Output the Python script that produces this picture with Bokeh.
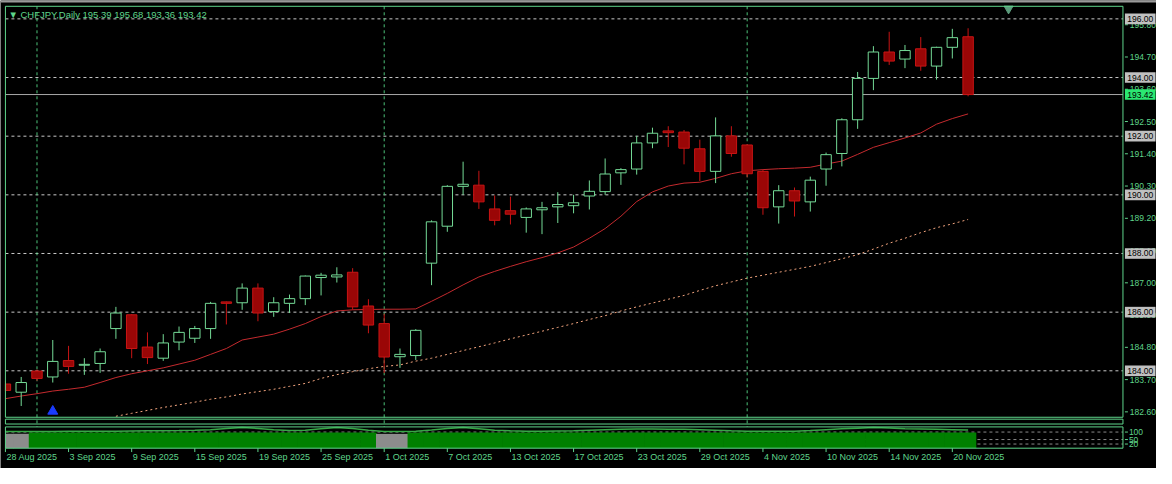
import numpy as np
import pandas as pd
from bokeh.plotting import figure
from bokeh.models import ColumnDataSource, Range1d
from bokeh.embed import file_html
from bokeh.resources import INLINE
from bokeh.core.properties import value

# ---------------- data ----------------
symbol = "CHFJPY"
timeframe = "Daily"
dates = pd.bdate_range("2025-08-28", "2025-11-21")

opens = [183.55, 183.27, 183.99, 183.79, 184.35, 184.19, 184.25, 185.44, 185.91, 184.81,
         184.43, 184.98, 185.11, 185.44, 186.35, 186.32, 186.82, 186.02, 186.30, 186.46,
         187.18, 187.20, 187.36, 186.21, 185.61, 184.48, 184.52, 187.67, 188.93, 190.29,
         190.33, 189.52, 189.46, 189.23, 189.49, 189.59, 189.63, 189.96, 190.11, 190.75,
         190.88, 191.77, 192.18, 192.14, 191.57, 190.80, 192.01, 191.70, 190.80, 189.59,
         190.14, 189.76, 190.88, 191.41, 192.56, 193.97, 194.87, 194.63, 194.98, 194.39,
         195.03, 195.39]
highs = [183.66, 183.79, 184.04, 185.05, 184.85, 184.43, 184.76, 186.18, 185.93, 185.31,
         185.25, 185.51, 185.53, 186.35, 186.36, 186.98, 186.98, 186.51, 186.60, 187.25,
         187.34, 187.53, 187.50, 186.44, 185.95, 184.76, 185.42, 189.13, 190.33, 191.13,
         190.82, 189.98, 189.94, 189.57, 189.76, 190.09, 190.00, 190.49, 191.24, 190.91,
         192.01, 192.29, 192.34, 192.21, 191.88, 192.64, 192.34, 191.72, 190.86, 190.33,
         190.25, 190.62, 191.44, 192.61, 194.19, 195.07, 195.56, 195.11, 195.38, 195.05,
         195.66, 195.68]
lows = [183.30, 182.80, 183.66, 183.60, 183.90, 183.86, 183.93, 185.09, 184.43, 184.23,
        184.34, 184.70, 184.95, 185.09, 185.58, 186.08, 185.69, 185.84, 185.97, 186.24,
        186.57, 187.01, 186.08, 185.28, 183.92, 184.10, 184.37, 186.92, 188.74, 190.00,
        189.52, 188.96, 188.99, 188.71, 188.66, 189.04, 189.37, 189.50, 190.00, 190.34,
        190.69, 191.59, 191.63, 191.04, 190.47, 190.40, 191.30, 190.60, 189.32, 189.02,
        189.26, 189.43, 190.31, 190.97, 192.25, 193.57, 194.43, 194.32, 194.23, 193.93,
        194.65, 193.36]
closes = [183.33, 183.60, 183.74, 184.32, 184.15, 184.22, 184.65, 185.97, 184.76, 184.45,
          184.95, 185.31, 185.44, 186.30, 186.30, 186.82, 185.97, 186.32, 186.46, 187.23,
          187.26, 187.27, 186.18, 185.56, 184.47, 184.56, 185.38, 189.08, 190.29, 190.36,
          189.76, 189.13, 189.34, 189.52, 189.56, 189.67, 189.73, 190.12, 190.71, 190.86,
          191.77, 192.10, 192.12, 191.59, 190.80, 192.01, 191.41, 190.72, 189.56, 190.14,
          189.79, 190.50, 191.37, 192.56, 193.97, 194.87, 194.56, 194.92, 194.39, 195.03,
          195.36, 193.42]

ma_fast = [183.05, 183.14, 183.22, 183.31, 183.37, 183.44, 183.60, 183.77, 183.90, 184.00,
           184.10, 184.23, 184.36, 184.56, 184.76, 185.05, 185.15, 185.25, 185.42, 185.61,
           185.85, 186.04, 186.08, 186.09, 186.10, 186.10, 186.11, 186.37, 186.64, 186.93,
           187.20, 187.39, 187.56, 187.72, 187.86, 188.02, 188.22, 188.52, 188.85, 189.27,
           189.77, 190.10, 190.30, 190.40, 190.43, 190.56, 190.72, 190.82, 190.86, 190.89,
           190.91, 190.94, 191.05, 191.15, 191.38, 191.62, 191.78, 191.94, 192.11, 192.41,
           192.60, 192.76]
ma_slow = [None, None, None, None, None, None, None, 182.45, 182.55, 182.65,
           182.75, 182.84, 182.93, 183.03, 183.11, 183.21, 183.29, 183.37, 183.47, 183.57,
           183.74, 183.87, 183.97, 184.07, 184.15, 184.20, 184.33, 184.43, 184.56, 184.69,
           184.82, 184.95, 185.09, 185.22, 185.35, 185.48, 185.61, 185.75, 185.88, 186.04,
           186.18, 186.31, 186.44, 186.57, 186.74, 186.90, 187.03, 187.16, 187.26, 187.36,
           187.46, 187.56, 187.69, 187.82, 187.96, 188.15, 188.35, 188.52, 188.71, 188.88,
           189.01, 189.16]

signal_idx = [3]
signal_price = [182.62]

level_prices = [196.00, 194.00, 192.00, 190.00, 188.00, 186.00, 184.00]
price_ticks = [195.80, 194.70, 193.60, 192.50, 191.40, 190.30, 189.20, 188.10,
               187.00, 185.90, 184.80, 183.70, 182.60]

osc_hist = [88, 88, 97, 97, 97, 97, 97, 97, 97, 97, 97, 97, 97, 97, 97, 97, 97, 97, 97, 97,
            97, 97, 97, 97, 88, 88, 97, 97, 97, 97, 97, 97, 97, 97, 97, 97, 97, 97, 97, 97,
            97, 97, 97, 97, 97, 97, 97, 97, 97, 97, 97, 97, 97, 97, 97, 97, 97, 97, 97, 97,
            97, 97]
osc_gray_idx = [0, 1, 24, 25]
osc_line = [104, 104, 104, 104, 105, 105, 106, 106, 107, 108, 109, 110, 112,
            116, 124, 130, 124, 116, 110, 112, 122, 130, 124, 112, 104, 104, 106,
            114, 124, 130, 122, 112, 108, 106, 106, 107, 108,
            112, 116, 119, 120, 120, 119, 118, 116,
            112, 108, 106, 105, 105, 106,
            110, 116, 122, 126, 130, 127, 122, 120, 118, 116, 114]
osc_levels = [100, 50, 20]
osc_ticks = [100, 50, 20]

date_tick_idx = list(range(0, 62, 4))
date_tick_labels = [f"{dates[i].day} {dates[i].strftime('%b %Y')}" for i in date_tick_idx]

# ---------------- layout helpers (terminal pixel grid -> data units) ----------------
PX_BAR = 16.0          # pixels per bar
X_FIRST = 5.0          # pixel x of first bar
PX_UNIT = 30.33        # pixels per yen
Y_196 = 19.0           # pixel y of 196.00
OSC_PX = 6.452         # oscillator units per pixel
Y_OSC20 = 458.7        # pixel y of oscillator level 20


def bx(px):
    return (px - X_FIRST) / PX_BAR


def py(pxl):
    return 196.0 - (pxl - Y_196) / PX_UNIT


def oy(pxl):
    return 20.0 - (pxl - Y_OSC20) * OSC_PX


W, H = 1156, 468
GREEN = "#5fd58b"
SEP = "#4cc279"
BG = "#000000"
BULL = "#74da96"
BEAR_FILL = "#9a0606"
BEAR_LINE = "#c81414"
FONT = value("Liberation Sans")

n = len(opens)
idx = np.arange(n)
o = np.array(opens); c = np.array(closes)
bull = c >= o
month_starts = [i for i in range(1, n) if dates[i].month != dates[i - 1].month]

L, R = bx(5), bx(1138)
MT, MB = py(6), py(431)
ST, SB = py(433), py(438)
OT, OB = oy(441), oy(463)

p = figure(width=W, height=H, output_backend="svg", toolbar_location=None,
           x_range=Range1d(bx(0), bx(1172)), y_range=Range1d(py(484), py(0)),
           x_axis_location=None, y_axis_location=None, min_border=0,
           min_border_left=0, min_border_right=0, min_border_top=0, min_border_bottom=0,
           background_fill_color=BG, border_fill_color=BG, outline_line_color=None)
p.extra_y_ranges = {"osc": Range1d(oy(484), oy(0))}
p.grid.visible = False

# window top edge
p.quad(left=bx(0), right=bx(1172), top=py(0), bottom=py(2), fill_color="#9a9a9a",
       line_color=None)

# horizontal levels, bid line, period separators
p.segment(x0=[L] * len(level_prices), y0=level_prices, x1=[R] * len(level_prices),
          y1=level_prices, line_color="#c8c8c8", line_dash="3 3", line_width=1)
p.segment(x0=[L], y0=[closes[-1]], x1=[R], y1=[closes[-1]], line_color="#a8a8a8",
          line_width=1)
p.segment(x0=month_starts, y0=[MT] * len(month_starts), x1=month_starts,
          y1=[py(441)] * len(month_starts), line_color=SEP, line_dash="3 3", line_width=1)

# moving averages
p.line(idx, ma_fast, color="#c42a2e", line_width=1)
p.line(idx, np.array([np.nan if v is None else v for v in ma_slow]),
       color="#f2a47e", line_dash="2 3", line_width=1)

# candles
HW = 0.33
src = ColumnDataSource(dict(
    x=idx, h=highs, l=lows,
    top=np.maximum(o, c), bot=np.minimum(o, c),
    left=np.maximum(idx - HW, L), right=idx + HW,
    wick=[BULL if b else BEAR_LINE for b in bull],
    fill=[BG if b else BEAR_FILL for b in bull],
    line=[BULL if b else BEAR_LINE for b in bull],
))
p.segment(x0="x", y0="l", x1="x", y1="h", color="wick", line_width=1, source=src)
p.quad(left="left", right="right", top="top", bottom="bot", fill_color="fill",
       line_color="line", line_width=1, source=src)

p.scatter(signal_idx, signal_price, marker="triangle", size=10, color="#1a3cff")
p.scatter([bx(1022)], [py(8.5)], marker="inverted_triangle", size=9, color="#5c9c7c")

# pane borders
p.quad(left=[L, L], right=[R, R], top=[MT, ST], bottom=[MB, SB], fill_color=None,
       line_color=GREEN, line_width=1)

# price scale
p.segment(x0=[bx(1140)] * len(price_ticks), y0=price_ticks,
          x1=[bx(1143)] * len(price_ticks), y1=price_ticks, line_color=GREEN)
p.text(x=[bx(1145)] * len(price_ticks), y=price_ticks,
       text=[f"{t:.2f}" for t in price_ticks], text_baseline="middle", text_align="left",
       text_font=FONT, text_font_size="8.5px", text_color=GREEN)
p.rect(x=[bx(1155.5)] * len(level_prices), y=level_prices, width=31 / PX_BAR,
       height=11 / PX_UNIT, fill_color="#c0c0c0", line_color=None)
p.text(x=[bx(1155.5)] * len(level_prices), y=level_prices,
       text=[f"{t:.2f}" for t in level_prices], text_baseline="middle", text_align="center",
       text_font=FONT, text_font_size="8.5px", text_color="black")
p.rect(x=[bx(1155.5)], y=[closes[-1]], width=31 / PX_BAR, height=11 / PX_UNIT,
       fill_color="#2be872", line_color=None)
p.text(x=[bx(1155.5)], y=[closes[-1]], text=[f"{closes[-1]:.2f}"], text_baseline="middle",
       text_align="center", text_font=FONT, text_font_size="8.5px", text_color="black")

# title
title = (f"\u25BC {symbol},{timeframe}  {opens[-1]:.2f} {highs[-1]:.2f} "
         f"{lows[-1]:.2f} {closes[-1]:.2f}")
p.text(x=[bx(8)], y=[py(14)], text=[title], text_baseline="middle", text_align="left",
       text_font=FONT, text_font_size="9.5px", text_color=GREEN)

# ---------------- oscillator pane ----------------
p.segment(x0=[L] * len(osc_levels), y0=osc_levels, x1=[R] * len(osc_levels), y1=osc_levels,
          line_color="#8a8a8a", line_dash="3 3", line_width=1, y_range_name="osc")
hcol = ["#8c8c8c" if i in osc_gray_idx else "#008000" for i in range(n)]
p.quad(left=np.maximum(idx - 0.52, L), right=idx + 0.52, top=osc_hist,
       bottom=[OB] * n, fill_color=hcol, line_color=None, y_range_name="osc")
p.line(idx, osc_line, color="#36a846", line_width=1.5, y_range_name="osc")
p.quad(left=[L], right=[R], top=[OT], bottom=[OB], fill_color=None, line_color=GREEN,
       line_width=1, y_range_name="osc")
p.segment(x0=[bx(1140)] * len(osc_ticks), y0=osc_ticks, x1=[bx(1143)] * len(osc_ticks),
          y1=osc_ticks, line_color=GREEN, y_range_name="osc")
p.text(x=[bx(1144)] * len(osc_ticks), y=osc_ticks, text=[str(t) for t in osc_ticks],
       text_baseline="middle", text_align="left", text_font=FONT,
       text_font_size="8.5px", text_color=GREEN, y_range_name="osc")

# ---------------- time scale ----------------
p.segment(x0=date_tick_idx, y0=[OB] * len(date_tick_idx), x1=date_tick_idx,
          y1=[oy(467)] * len(date_tick_idx), line_color=GREEN, y_range_name="osc")
p.text(x=[i + 1 / PX_BAR for i in date_tick_idx], y=[oy(472.5)] * len(date_tick_idx),
       text=date_tick_labels, text_baseline="middle", text_align="left", text_font=FONT,
       text_font_size="9px", text_color=GREEN, y_range_name="osc")

open("out.html", "w").write(file_html(p, INLINE))
